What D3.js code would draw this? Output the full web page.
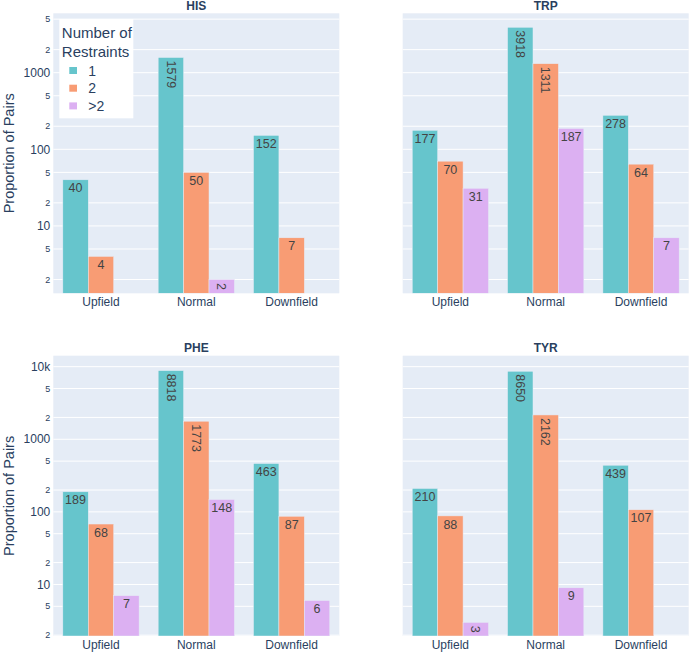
<!DOCTYPE html>
<html>
<head>
<meta charset="utf-8">
<script src="https://cdn.jsdelivr.net/npm/d3@7/dist/d3.min.js"></script>
<style>
  html, body { margin: 0; padding: 0; background: #fff; }
  svg { display: block; font-family: "Liberation Sans", Arial, sans-serif; }
</style>
</head>
<body>
<svg id="chart" width="689" height="652"></svg>
<script>
// ---------------- DATA ----------------
const categories = ["Upfield", "Normal", "Downfield"];
const seriesNames = ["1", "2", ">2"];
const seriesColors = ["rgb(102,197,204)", "rgb(248,156,116)", "rgb(220,176,242)"];

const panelTitles = ["HIS", "TRP", "PHE", "TYR"];

const hisOne = [40, 1579, 152];
const hisTwo = [4, 50, 7];
const hisMore = [null, 2, null];

const trpOne = [177, 3918, 278];
const trpTwo = [70, 1311, 64];
const trpMore = [31, 187, 7];

const pheOne = [189, 8818, 463];
const pheTwo = [68, 1773, 87];
const pheMore = [7, 148, 6];

const tyrOne = [210, 8650, 439];
const tyrTwo = [88, 2162, 107];
const tyrMore = [3, 9, null];

const topRowTicks = [2, 5, 10, 20, 50, 100, 200, 500, 1000, 2000, 5000];
const topRowTickLabels = ["2", "5", "10", "2", "5", "100", "2", "5", "1000", "2", "5"];
const bottomRowTicks = [2, 5, 10, 20, 50, 100, 200, 500, 1000, 2000, 5000, 10000];
const bottomRowTickLabels = ["2", "5", "10", "2", "5", "100", "2", "5", "1000", "2", "5", "10k"];

const topRowDomain = [1.32, 5960];
const bottomRowDomain = [1.95, 14160];

const yAxisTitle = "Proportion of Pairs";
const legendTitleLines = ["Number of", "Restraints"];

// ---------------- LAYOUT ----------------
const svg = d3.select("#chart");
const W = 286;
const colX = [53.3, 402.7];
const rowY = [13.3, 355.7];
const rowH = [280, 280.3];
const textColor = "#2a3f5f";
const bg = "#E5ECF6";

const panels = [
  { title: panelTitles[0], series: [hisOne, hisTwo, hisMore], col: 0, row: 0 },
  { title: panelTitles[1], series: [trpOne, trpTwo, trpMore], col: 1, row: 0 },
  { title: panelTitles[2], series: [pheOne, pheTwo, pheMore], col: 0, row: 1 },
  { title: panelTitles[3], series: [tyrOne, tyrTwo, tyrMore], col: 1, row: 1 }
];
const rowTicks = [topRowTicks, bottomRowTicks];
const rowTickLabels = [topRowTickLabels, bottomRowTickLabels];
const rowDomains = [topRowDomain, bottomRowDomain];

panels.forEach(p => {
  const x0 = colX[p.col], y0 = rowY[p.row], h = rowH[p.row];
  const g = svg.append("g").attr("transform", `translate(${x0},${y0})`);
  const x = d3.scaleBand().domain(categories).range([0, W]).paddingInner(0.2).paddingOuter(0.1);
  const xs = d3.scaleBand().domain(seriesNames).range([0, x.bandwidth()]);
  const y = d3.scaleLog().domain(rowDomains[p.row]).range([h, 0]);

  g.append("rect").attr("width", W).attr("height", h).attr("fill", bg);

  // grid
  g.selectAll("line.grid").data(rowTicks[p.row]).join("line")
    .attr("class", "grid")
    .attr("x1", 0).attr("x2", W)
    .attr("y1", d => y(d)).attr("y2", d => y(d))
    .attr("stroke", "#fff").attr("stroke-width", 1);

  // y tick labels (left column only)
  if (p.col === 0) {
    const labs = rowTickLabels[p.row];
    g.selectAll("text.ytick").data(rowTicks[p.row]).join("text")
      .attr("class", "ytick")
      .attr("x", -3)
      .attr("y", d => y(d))
      .attr("dy", "0.35em")
      .attr("text-anchor", "end")
      .attr("fill", textColor)
      .attr("font-size", (d, i) => /^[25]$/.test(labs[i]) ? 9 : 12)
      .text((d, i) => labs[i]);

    g.append("text")
      .attr("transform", `translate(${14 - x0},${h / 2}) rotate(-90)`)
      .attr("text-anchor", "middle")
      .attr("fill", textColor)
      .attr("font-size", 14.5)
      .text(yAxisTitle);
  }

  // x tick labels
  g.selectAll("text.xtick").data(categories).join("text")
    .attr("class", "xtick")
    .attr("x", d => x(d) + x.bandwidth() / 2)
    .attr("y", h + 12.7)
    .attr("text-anchor", "middle")
    .attr("fill", textColor)
    .attr("font-size", 12)
    .text(d => d);

  // title
  g.append("text")
    .attr("x", W / 2).attr("y", -3.6)
    .attr("text-anchor", "middle")
    .attr("fill", textColor)
    .attr("font-size", 12)
    .attr("font-weight", "bold")
    .text(p.title);

  // bars
  const clip = "clip" + p.title;
  g.append("clipPath").attr("id", clip).append("rect").attr("width", W).attr("height", h);
  const bars = [];
  p.series.forEach((vals, si) => {
    vals.forEach((v, ci) => {
      if (v == null) return;
      bars.push({ v, si, cat: categories[ci], s: seriesNames[si] });
    });
  });
  const bg2 = g.append("g").attr("clip-path", `url(#${clip})`);
  bg2.selectAll("rect.bar").data(bars).join("rect")
    .attr("class", "bar")
    .attr("x", d => x(d.cat) + xs(d.s))
    .attr("width", xs.bandwidth())
    .attr("y", d => y(d.v))
    .attr("height", d => h - y(d.v))
    .attr("fill", d => seriesColors[d.si])
    .attr("stroke", bg).attr("stroke-width", 0.5);

  // value labels
  bars.forEach(d => {
    const cx = x(d.cat) + xs(d.s) + xs.bandwidth() / 2;
    const top = y(d.v);
    const barH = h - top;
    const label = String(d.v);
    const rotate = label.length >= 4 || barH < 18;
    const t = g.append("text")
      .attr("fill", "#444")
      .attr("font-size", 12.5)
      .text(label);
    if (rotate) {
      const len = label.length * 12.5 * 0.556;
      const start = barH < 18 ? top + Math.max(1, (barH - len) / 2) : top + 3;
      t.attr("transform", `translate(${cx},${start}) rotate(90)`)
        .attr("dy", "0.35em")
        .attr("text-anchor", "start");
    } else {
      t.attr("x", cx).attr("y", top + 12.7).attr("text-anchor", "middle");
    }
  });
});

// ---------------- LEGEND ----------------
const lg = svg.append("g").attr("transform", "translate(59.3,19)");
lg.append("rect").attr("width", 74).attr("height", 99.3).attr("fill", "#fff");
legendTitleLines.forEach((t, i) => {
  lg.append("text").attr("x", 2.5).attr("y", 19.3 + i * 19)
    .attr("fill", textColor).attr("font-size", 15).text(t);
});
seriesNames.forEach((s, i) => {
  const cy = 51.7 + i * 17.7;
  lg.append("rect").attr("x", 10).attr("y", cy - 3.7).attr("width", 7.7).attr("height", 7)
    .attr("fill", seriesColors[i]);
  lg.append("text").attr("x", 29).attr("y", cy).attr("dy", "0.36em")
    .attr("fill", textColor).attr("font-size", 14).text(s);
});
</script>
</body>
</html>
